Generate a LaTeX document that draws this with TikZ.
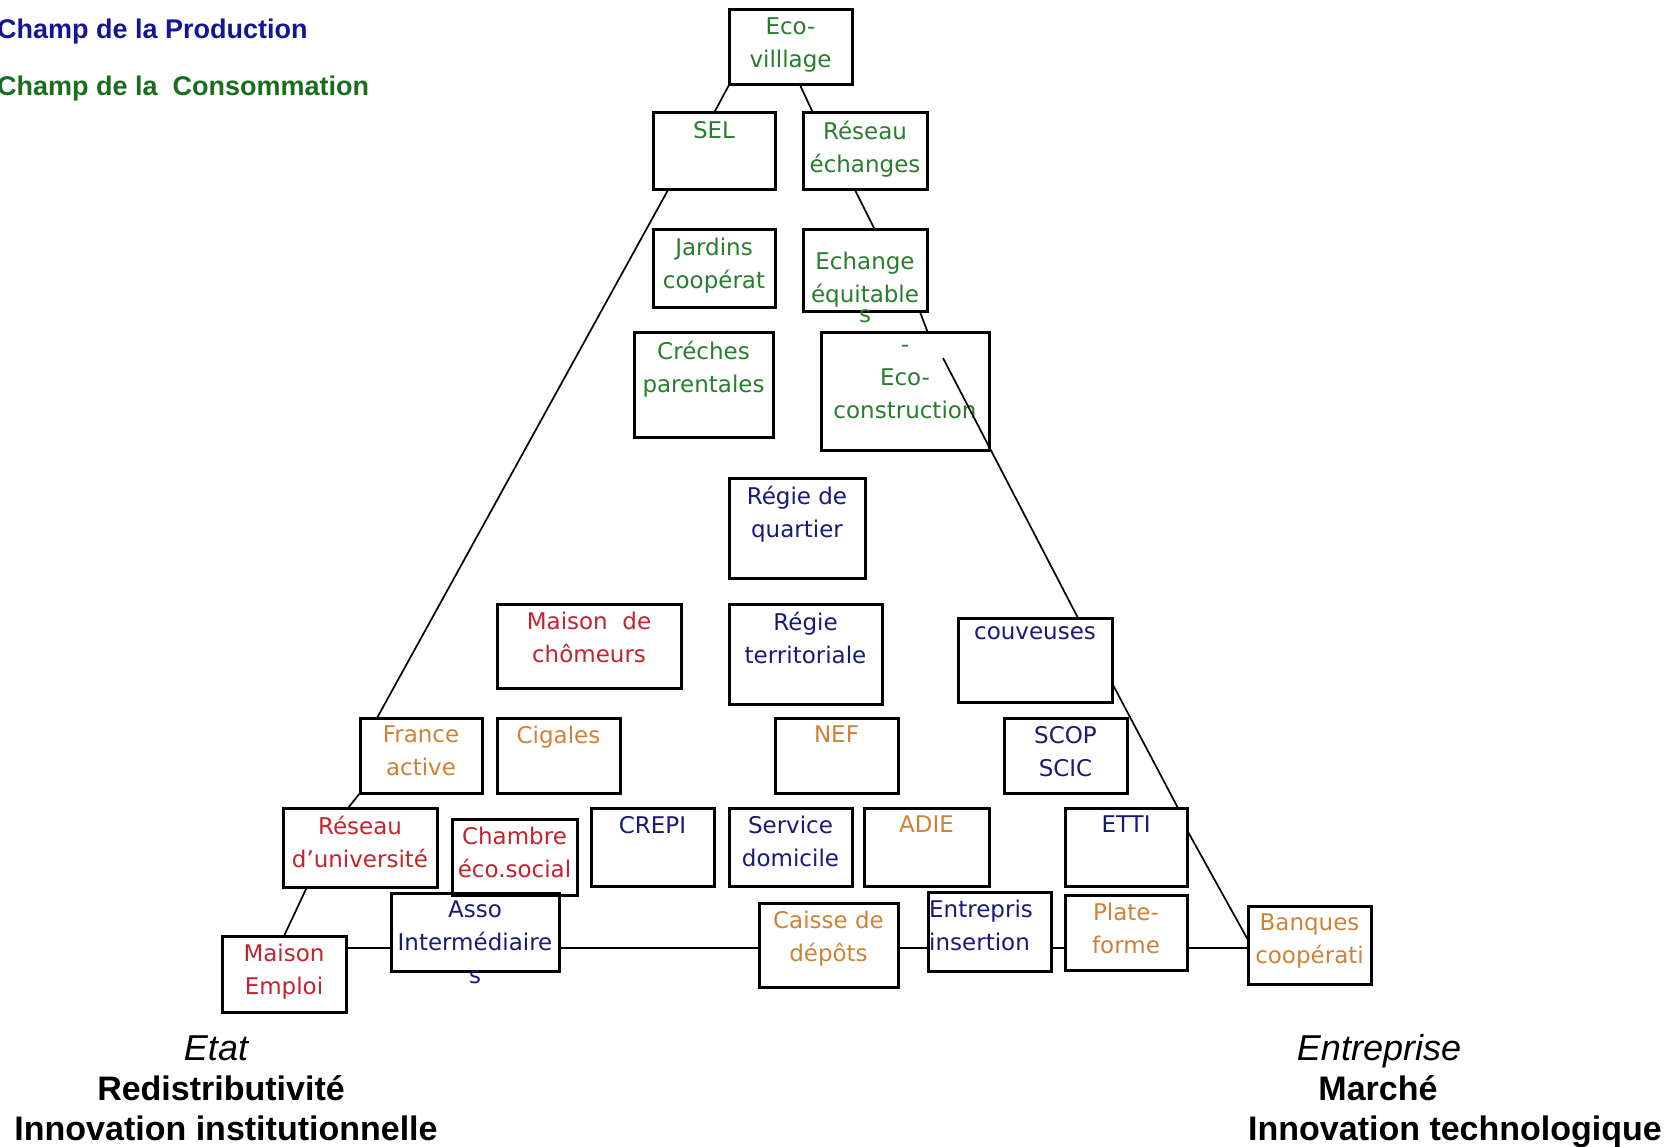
\documentclass[tikz,border=0pt]{standalone}
\usepackage{fontspec}
\setmainfont{Liberation Sans}
\newfontfamily\boitefont{DejaVu Sans}
\usetikzlibrary{positioning,calc}
\definecolor{vertT}{RGB}{40,125,45}
\definecolor{bleuT}{RGB}{25,25,120}
\definecolor{rougeT}{RGB}{195,35,45}
\definecolor{orangeT}{RGB}{205,130,55}
\definecolor{bleuL}{RGB}{20,20,150}
\definecolor{vertL}{RGB}{25,110,30}

\tikzset{
  boite/.style 2 args={rectangle, draw, line width=3pt, inner sep=0pt, outer sep=0pt,
    anchor=north west, minimum width=#1, minimum height=#2},
  txt/.style={anchor=north, align=center, inner xsep=4pt, inner ysep=8pt,
    font=\boitefont\fontsize{23}{33}\selectfont},
  cons/.style={txt, text=vertT},
  prod/.style={txt, text=bleuT},
  rge/.style={txt, text=rougeT},
  fin/.style={txt, text=orangeT},
  trait/.style={line width=1.7pt},
}

\begin{document}
\begin{tikzpicture}[x=1pt, y=-1pt]
\useasboundingbox (0,0) rectangle (1676,1147);

% legende
\node[anchor=base west, inner sep=0pt, font=\bfseries\fontsize{27}{30}\selectfont, text=bleuL] (chprod) at (-3,39) {Champ de la Production};
\node[anchor=base west, inner sep=0pt, font=\bfseries\fontsize{27}{30}\selectfont, text=vertL] (chcons) at (-3,96) {Champ de la\ \ Consommation};

% consommation
\node[boite={123pt}{75pt}, label={[cons]north:Eco-\\villlage}] (ecov) at (729,10) {};
\node[boite={122pt}{77pt}, label={[cons]north:SEL}] (sel) at (653,113) {};
\node[boite={124pt}{77pt}, label={[cons]north:Réseau\\échanges}] (res) at (803,113) {};
\node[boite={122pt}{78pt}, label={[cons]north:Jardins\\coopérat}] (jard) at (653,230) {};
\node[boite={124pt}{82pt}, label={[cons, yshift=-14pt]north:Echange\\équitable\\[-13pt]s}] (echeq) at (803,230) {};
\node[boite={139pt}{104pt}, label={[cons]north:Créches\\parentales}] (creche) at (634,333) {};
\node[boite={168pt}{117pt}, label={[cons]north:\rule{0pt}{11pt}-\\Eco-\\construction}] (ecocons) at (821,333) {};

% production
\node[boite={136pt}{100pt}, label={[prod]north:Régie de\\quartier}] (regq) at (729,478) {};
\node[boite={153pt}{100pt}, label={[prod]north:Régie\\territoriale}] (regt) at (729,604) {};
\node[boite={154pt}{84pt}, label={[prod]north:couveuses}] (couv) at (958,618) {};
\node[boite={123pt}{75pt}, label={[prod]north:SCOP\\SCIC}] (scop) at (1004,718) {};
\node[boite={123pt}{78pt}, label={[prod]north:CREPI}] (crepi) at (591,808) {};
\node[boite={123pt}{78pt}, label={[prod]north:Service\\domicile}] (serv) at (729,808) {};
\node[boite={122pt}{78pt}, label={[prod]north:ETTI}] (etti) at (1065,808) {};
\node[boite={168pt}{78pt}, label={[prod]north:Asso\\Intermédiaire\\s}] (asso) at (391,893) {};
\node[boite={123pt}{79pt}, label={[prod, anchor=north west, align=left, inner xsep=1pt]north west:Entrepris\\insertion}] (entr) at (928,892) {};

% social
\node[boite={184pt}{84pt}, label={[rge]north:Maison\ \ de\\chômeurs}] (chom) at (497,604) {};
\node[boite={154pt}{79pt}, label={[rge]north:Réseau\\d’université}] (runiv) at (283,808) {};
\node[boite={125pt}{76pt}, label={[rge]north:Chambre\\éco.social}] (chamb) at (452,819) {};
\node[boite={124pt}{76pt}, label={[rge]north:Maison\\Emploi}] (memp) at (222,936) {};

% finance
\node[boite={122pt}{75pt}, label={[fin]north:France\\active}] (frac) at (360,718) {};
\node[boite={123pt}{75pt}, label={[fin]north:Cigales}] (cig) at (497,718) {};
\node[boite={123pt}{75pt}, label={[fin]north:NEF}] (nef) at (775,718) {};
\node[boite={125pt}{78pt}, label={[fin]north:ADIE}] (adie) at (864,808) {};
\node[boite={139pt}{84pt}, label={[fin]north:Caisse de\\dépôts}] (caisse) at (759,903) {};
\node[boite={122pt}{75pt}, label={[fin]north:Plate-\\forme}] (plat) at (1065,895) {};
\node[boite={123pt}{78pt}, label={[fin]north:Banques\\coopérati}] (banq) at (1248,906) {};

% base du triangle
\coordinate (base) at (0,948);
\draw[trait] (memp.east |- base) -- (asso.west |- base);
\draw[trait] (asso.east |- base) -- (caisse.west |- base);
\draw[trait] (caisse.east |- base) -- (entr.west |- base);
\draw[trait] (entr.east |- base) -- (plat.west |- base);
\draw[trait] (plat.east |- base) -- (banq.west |- base);

% cote gauche
\draw[trait] (ecov.south west) -- (sel.north);
\draw[trait] ([xshift=15pt]sel.south west) -- ([xshift=17pt]frac.north west);
\draw[trait] (frac.south west) -- ([xshift=65pt]runiv.north west);
\draw[trait] ([xshift=24pt]runiv.south west) -- (memp.north);

% cote droit
\draw[trait] ([xshift=71pt]ecov.south west) -- ([xshift=10pt]res.north west);
\draw[trait] ([xshift=52pt]res.south west) -- ([xshift=72pt]echeq.north west);
\draw[trait] ([xshift=117pt]echeq.south west) -- ([xshift=107pt]ecocons.north west);
\coordinate (pointe) at ([xshift=122pt,yshift=-25pt]ecocons.north west);
\draw[trait] (pointe) -- ([xshift=120pt]couv.north west);
\draw[trait] ([yshift=-65pt]couv.north east) -- ([xshift=113pt]etti.north west);
\draw[trait] ([yshift=-22pt]etti.north east) -- ([yshift=-34pt]banq.north west);

% poles
\node[anchor=base, font=\itshape\fontsize{36}{40}\selectfont] (etat) at (216,1060) {Etat};
\node[anchor=base, font=\bfseries\fontsize{34}{40}\selectfont] (redis) at (221,1100) {Redistributivité};
\node[anchor=base, font=\bfseries\fontsize{34}{40}\selectfont] (innoinst) at (226,1140) {Innovation institutionnelle};
\node[anchor=base, font=\itshape\fontsize{36}{40}\selectfont] (entreprise) at (1379,1060) {Entreprise};
\node[anchor=base, font=\bfseries\fontsize{34}{40}\selectfont] (marche) at (1378,1100) {Marché};
\node[anchor=base, font=\bfseries\fontsize{34}{40}\selectfont] (innotech) at (1455,1140) {Innovation technologique};
\end{tikzpicture}
\end{document}
